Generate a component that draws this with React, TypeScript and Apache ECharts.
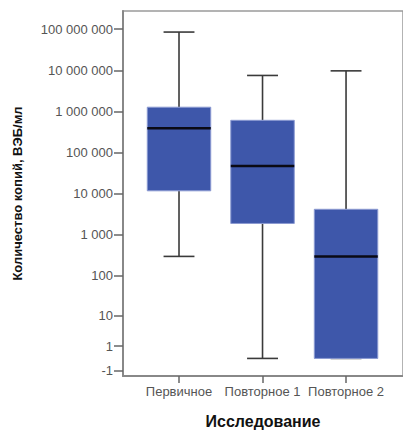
import React, { useEffect, useRef } from "react";
import * as echarts from "echarts";

const categories = ["Первичное", "Повторное 1", "Повторное 2"];
// [min, Q1, median, Q3, max] in copies/ml
const boxMin = [300, 0, 0];
const boxQ1 = [11800, 1900, 0];
const boxMedian = [390000, 47000, 300];
const boxQ3 = [1270000, 610000, 4200];
const boxMax = [85000000, 7500000, 9700000];

const tickValues = [100000000, 10000000, 1000000, 100000, 10000, 1000, 100, 10, 1, -1];
const tickLabels = ["100 000 000", "10 000 000", "1 000 000", "100 000", "10 000", "1 000", "100", "10", "1", "-1"];

// symmetric log transform used by the original axis
const symlog = (v: number) => Math.sign(v) * Math.log10(1 + Math.abs(v));

const FONT = "'Liberation Sans', Arial, sans-serif";

export default function App() {
  const ref = useRef<HTMLDivElement>(null);
  useEffect(() => {
    if (!ref.current) return;
    const chart = echarts.init(ref.current, undefined, { renderer: "svg" });
    const data = categories.map((_, i) => [
      i,
      symlog(boxMin[i]),
      symlog(boxQ1[i]),
      symlog(boxMedian[i]),
      symlog(boxQ3[i]),
      symlog(boxMax[i]),
    ]);
    const tickT = tickValues.map(symlog);
    chart.setOption({
      animation: false,
      grid: { left: 123, top: 11, right: -5, bottom: 55, show: true, borderColor: "#9a9a9a", borderWidth: 1.5, backgroundColor: "transparent" },
      xAxis: {
        type: "value",
        min: -0.6706,
        max: 2.682,
        name: "Исследование",
        nameLocation: "middle",
        nameGap: 37,
        nameTextStyle: { fontFamily: FONT, fontSize: 16, fontWeight: "bold", color: "#111" },
        axisLine: { show: true, onZero: false, lineStyle: { color: "#888", width: 2 } },
        axisTick: { show: true, customValues: [0, 1, 2], length: 7, lineStyle: { color: "#666", width: 1.5 } },
        axisLabel: {
          customValues: [0, 1, 2],
          formatter: (v: number) => categories[Math.round(v)] ?? "",
          fontFamily: FONT,
          fontSize: 13,
          color: "#555",
          margin: 9,
        },
        splitLine: { show: false },
      },
      yAxis: {
        type: "value",
        min: -0.427,
        max: 8.441,
        name: "Количество копий, ВЭБ/мл",
        nameLocation: "middle",
        nameGap: 99,
        nameTextStyle: { fontFamily: FONT, fontSize: 13, fontWeight: "bold", color: "#111" },
        axisLine: { show: true, onZero: false, lineStyle: { color: "#888", width: 2 } },
        axisTick: { show: true, customValues: tickT, length: 9, lineStyle: { color: "#666", width: 1.5 } },
        axisLabel: {
          customValues: tickT,
          formatter: (v: number) => {
            let best = 0;
            let d = Infinity;
            tickT.forEach((t, k) => {
              if (Math.abs(t - v) < d) { d = Math.abs(t - v); best = k; }
            });
            return tickLabels[best];
          },
          fontFamily: FONT,
          fontSize: 13,
          color: "#555",
          margin: 10,
        },
        splitLine: { show: false },
      },
      series: [
        {
          type: "custom",
          data,
          renderItem: (params: any, api: any) => {
            const x = api.value(0);
            const pMin = api.coord([x, api.value(1)]);
            const pQ1 = api.coord([x, api.value(2)]);
            const pMed = api.coord([x, api.value(3)]);
            const pQ3 = api.coord([x, api.value(4)]);
            const pMax = api.coord([x, api.value(5)]);
            const unit = api.size([1, 0])[0];
            const bw = unit * 0.76;
            const cw = unit * 0.37;
            const cx = pMed[0];
            const stroke = { stroke: "#3a3a3a", lineWidth: 1.6 };
            return {
              type: "group",
              children: [
                { type: "line", shape: { x1: cx, y1: pQ3[1], x2: cx, y2: pMax[1] }, style: stroke },
                { type: "line", shape: { x1: cx - cw / 2, y1: pMax[1], x2: cx + cw / 2, y2: pMax[1] }, style: stroke },
                { type: "line", shape: { x1: cx, y1: pQ1[1], x2: cx, y2: pMin[1] }, style: stroke },
                { type: "line", shape: { x1: cx - cw / 2, y1: pMin[1], x2: cx + cw / 2, y2: pMin[1] }, style: stroke },
                {
                  type: "rect",
                  shape: { x: cx - bw / 2, y: pQ3[1], width: bw, height: pQ1[1] - pQ3[1] },
                  style: { fill: "#3e57aa", stroke: "#8b9ad2", lineWidth: 1 },
                },
                { type: "line", shape: { x1: cx - bw / 2, y1: pMed[1], x2: cx + bw / 2, y2: pMed[1] }, style: { stroke: "#0a0a14", lineWidth: 2.5 } },
              ],
            };
          },
        },
      ],
    });
    return () => chart.dispose();
  }, []);
  return <div ref={ref} style={{ width: 403, height: 434, position: "absolute", left: 0, top: 0, background: "#fff" }} />;
}
